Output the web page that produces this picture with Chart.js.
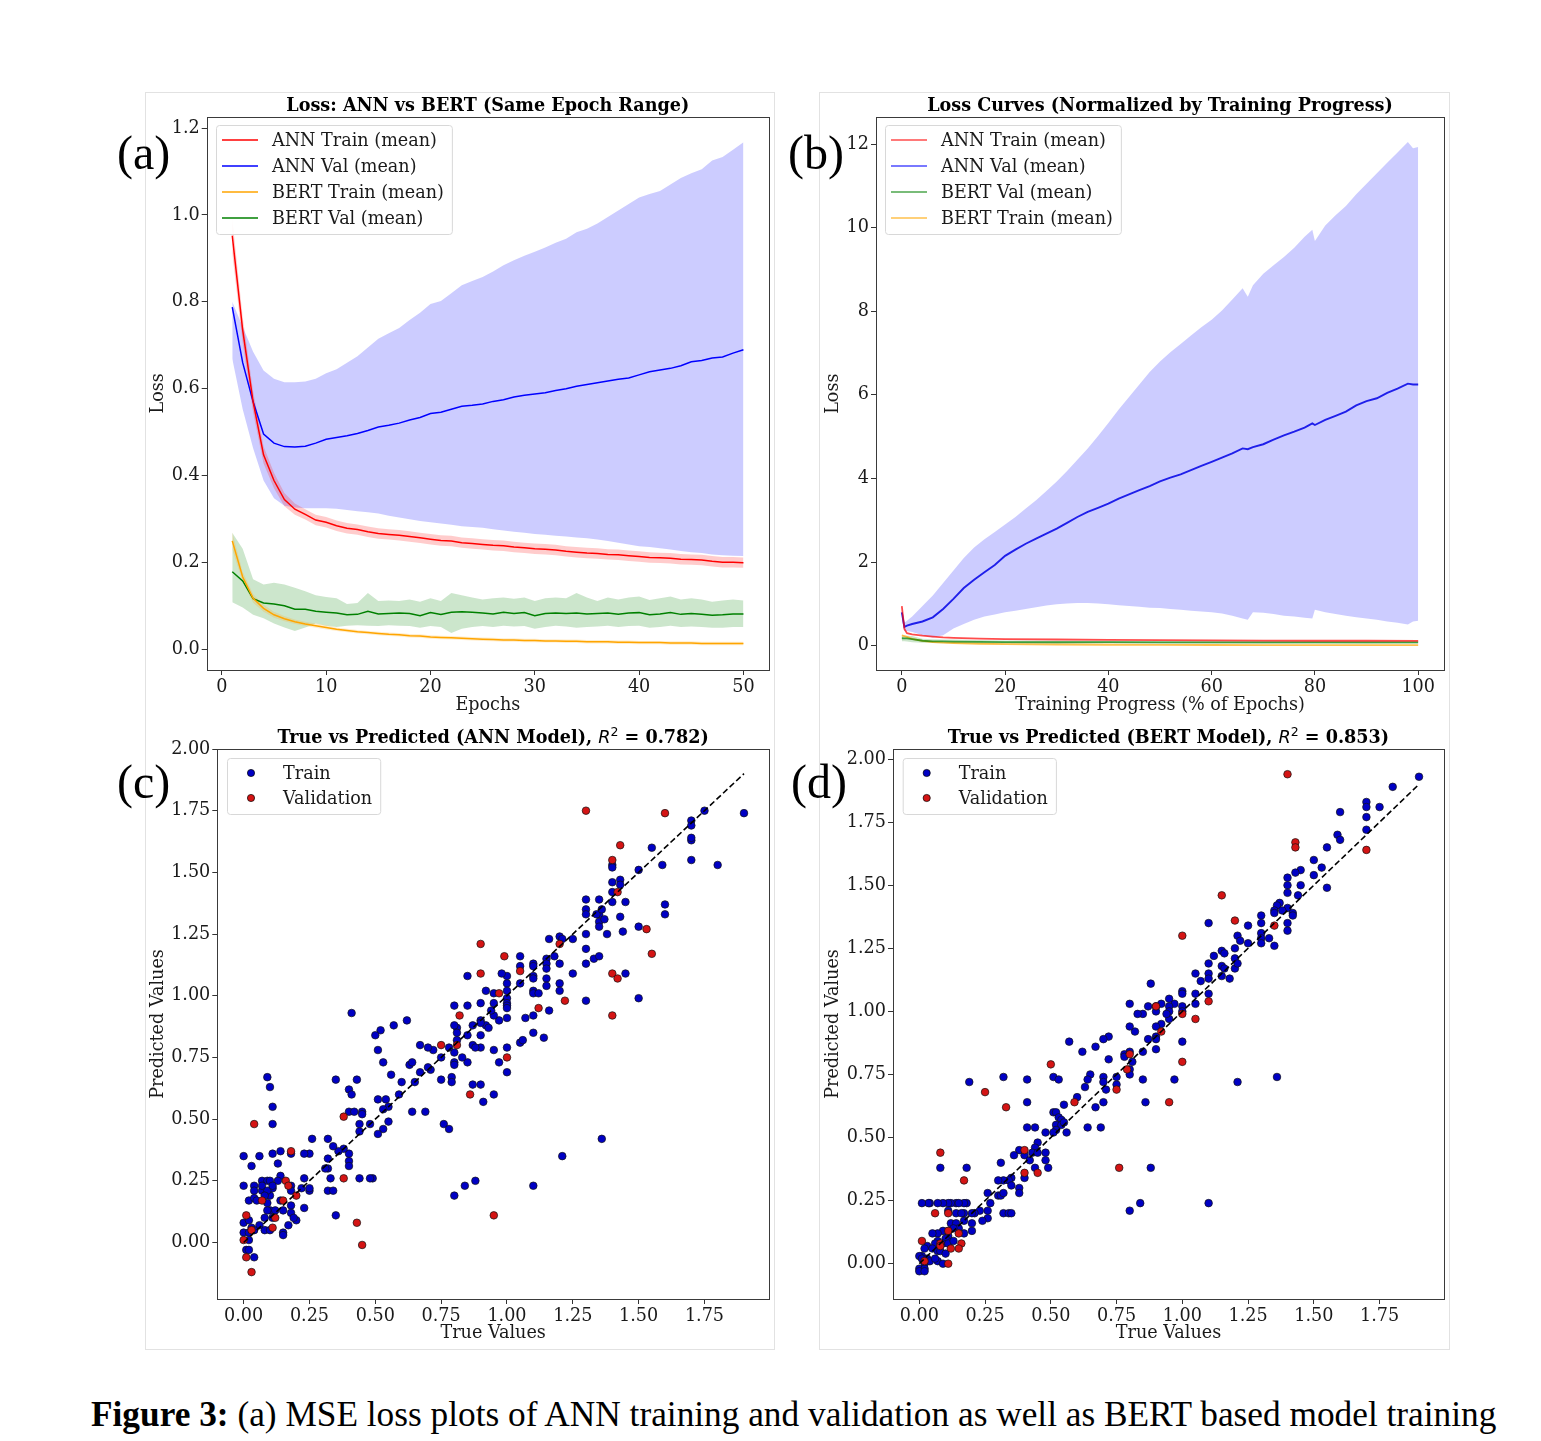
<!DOCTYPE html>
<html>
<head>
<meta charset="utf-8">
<script src="https://cdn.jsdelivr.net/npm/chart.js@4.4.1/dist/chart.umd.min.js"></script>
<style>
  body { margin: 0; background: #fff; width: 1541px; height: 1441px; position: relative; overflow: hidden; }
  .frame { position: absolute; border: 1px solid #e2e2e2; box-sizing: border-box; }
  canvas { position: absolute; }
  .tag { position: absolute; font-family: 'Liberation Serif', serif; font-size: 48px; line-height: 1; color: #000; }
  #caption { position: absolute; left: 91px; top: 1395px; font-family: 'Liberation Serif', serif; font-size: 35.3px; white-space: nowrap; color: #000; }
</style>
</head>
<body>
<div class="frame" style="left:145px;top:92px;width:630px;height:1258px"></div>
<div class="frame" style="left:819px;top:92px;width:631px;height:1258px"></div>

<canvas id="cA" width="629" height="628" style="left:145px;top:92px"></canvas>
<canvas id="cB" width="630" height="628" style="left:819px;top:92px"></canvas>
<canvas id="cC" width="629" height="629" style="left:145px;top:720px"></canvas>
<canvas id="cD" width="630" height="629" style="left:819px;top:720px"></canvas>

<div class="tag" style="left:117px;top:129px">(a)</div>
<div class="tag" style="left:788px;top:129px">(b)</div>
<div class="tag" style="left:117px;top:758px">(c)</div>
<div class="tag" style="left:791px;top:758px">(d)</div>

<div id="caption"><b>Figure 3:</b> (a) MSE loss plots of ANN training and validation as well as BERT based model training</div>

<script>
// ---------- (a) loss per epoch ----------
const epochs = Array.from({ length: 50 }, (_, i) => i + 1);

const annTrain = [0.952, 0.735, 0.57, 0.448, 0.389, 0.345, 0.323, 0.311, 0.298, 0.293,
  0.285, 0.279, 0.276, 0.271, 0.267, 0.265, 0.263, 0.26, 0.257, 0.254,
  0.251, 0.25, 0.246, 0.244, 0.242, 0.24, 0.239, 0.236, 0.234, 0.232,
  0.231, 0.229, 0.226, 0.224, 0.222, 0.221, 0.219, 0.218, 0.216, 0.214,
  0.212, 0.211, 0.21, 0.208, 0.207, 0.206, 0.203, 0.201, 0.201, 0.2];
const annTrainStd = [0.04, 0.03, 0.025, 0.02, 0.018, 0.015, 0.013, 0.012, 0.012, 0.012,
  0.012, 0.012, 0.012, 0.012, 0.012, 0.012, 0.012, 0.012, 0.012, 0.012,
  0.012, 0.012, 0.012, 0.012, 0.012, 0.012, 0.012, 0.012, 0.012, 0.012,
  0.012, 0.012, 0.012, 0.012, 0.012, 0.012, 0.012, 0.012, 0.012, 0.012,
  0.012, 0.012, 0.012, 0.012, 0.012, 0.012, 0.012, 0.012, 0.012, 0.012];

const annVal = [0.788, 0.66, 0.57, 0.496, 0.475, 0.467, 0.466, 0.468, 0.475, 0.484,
  0.488, 0.492, 0.497, 0.504, 0.512, 0.516, 0.521, 0.528, 0.534, 0.543,
  0.546, 0.553, 0.56, 0.562, 0.565, 0.571, 0.575, 0.581, 0.585, 0.588,
  0.591, 0.596, 0.6, 0.606, 0.61, 0.614, 0.618, 0.622, 0.625, 0.632,
  0.639, 0.643, 0.647, 0.653, 0.662, 0.665, 0.671, 0.673, 0.682, 0.69];
const annValHi = [0.8, 0.743, 0.685, 0.642, 0.623, 0.615, 0.615, 0.617, 0.623, 0.636,
  0.645, 0.66, 0.675, 0.695, 0.715, 0.728, 0.74, 0.758, 0.775, 0.795,
  0.802, 0.82, 0.838, 0.848, 0.857, 0.87, 0.884, 0.896, 0.906, 0.915,
  0.925, 0.936, 0.945, 0.96, 0.968, 0.98, 0.995, 1.01, 1.025, 1.04,
  1.048, 1.055, 1.07, 1.085, 1.096, 1.105, 1.125, 1.133, 1.15, 1.167];
const annValLo = [0.669, 0.553, 0.463, 0.389, 0.348, 0.331, 0.327, 0.325, 0.325, 0.325,
  0.324, 0.321, 0.318, 0.316, 0.313, 0.308, 0.304, 0.3, 0.296, 0.293,
  0.29, 0.287, 0.284, 0.282, 0.28, 0.277, 0.274, 0.271, 0.269, 0.266,
  0.264, 0.262, 0.26, 0.258, 0.256, 0.253, 0.25, 0.246, 0.242, 0.238,
  0.236, 0.233, 0.23, 0.227, 0.224, 0.222, 0.219, 0.217, 0.216, 0.215];

const bertTrain = [0.25, 0.167, 0.118, 0.095, 0.08, 0.071, 0.064, 0.059, 0.055, 0.051,
  0.047, 0.044, 0.041, 0.039, 0.037, 0.035, 0.034, 0.032, 0.031, 0.029,
  0.028, 0.027, 0.026, 0.025, 0.024, 0.023, 0.022, 0.022, 0.021, 0.021,
  0.02, 0.02, 0.019, 0.019, 0.018, 0.018, 0.018, 0.017, 0.017, 0.016,
  0.016, 0.016, 0.015, 0.015, 0.015, 0.014, 0.014, 0.014, 0.014, 0.014];
const bertTrainStd = [0.02, 0.012, 0.01, 0.008, 0.007, 0.006, 0.005, 0.005, 0.005, 0.005,
  0.004, 0.004, 0.004, 0.004, 0.004, 0.004, 0.004, 0.004, 0.004, 0.004,
  0.004, 0.004, 0.004, 0.004, 0.004, 0.004, 0.004, 0.004, 0.004, 0.004,
  0.004, 0.004, 0.004, 0.004, 0.004, 0.004, 0.004, 0.004, 0.004, 0.004,
  0.004, 0.004, 0.004, 0.004, 0.004, 0.004, 0.004, 0.004, 0.004, 0.004];

const bertVal = [0.179, 0.158, 0.117, 0.107, 0.105, 0.101, 0.093, 0.093, 0.088, 0.086,
  0.084, 0.08, 0.081, 0.088, 0.082, 0.083, 0.084, 0.083, 0.078, 0.085,
  0.081, 0.086, 0.087, 0.086, 0.084, 0.082, 0.086, 0.083, 0.085, 0.078,
  0.083, 0.084, 0.083, 0.084, 0.082, 0.083, 0.084, 0.081, 0.084, 0.085,
  0.08, 0.082, 0.085, 0.081, 0.083, 0.081, 0.079, 0.08, 0.082, 0.082];
const bertValHi = [0.269, 0.232, 0.162, 0.15, 0.154, 0.15, 0.142, 0.134, 0.125, 0.121,
  0.118, 0.105, 0.107, 0.13, 0.112, 0.113, 0.112, 0.115, 0.11, 0.118,
  0.112, 0.13, 0.125, 0.12, 0.115, 0.118, 0.12, 0.117, 0.12, 0.112,
  0.118, 0.12, 0.118, 0.13, 0.12, 0.112, 0.12, 0.115, 0.12, 0.122,
  0.114, 0.118, 0.122, 0.115, 0.118, 0.115, 0.11, 0.113, 0.115, 0.113];
const bertValLo = [0.109, 0.097, 0.08, 0.072, 0.06, 0.051, 0.043, 0.051, 0.06, 0.055,
  0.052, 0.055, 0.056, 0.055, 0.054, 0.056, 0.055, 0.054, 0.05, 0.054,
  0.052, 0.038, 0.048, 0.052, 0.054, 0.052, 0.055, 0.053, 0.054, 0.048,
  0.052, 0.055, 0.053, 0.05, 0.052, 0.053, 0.055, 0.052, 0.054, 0.055,
  0.05, 0.052, 0.055, 0.052, 0.053, 0.052, 0.05, 0.05, 0.052, 0.052];

// ---------- (b) loss vs training progress ----------
const progB = [0, 0.5, 1, 2, 4, 6, 8, 10, 12, 14, 16, 18, 20, 22, 24, 26, 28, 30, 32, 34, 36, 38, 40,
  42, 44, 46, 48, 50, 52, 54, 56, 58, 60, 62, 64, 66, 67, 68, 70, 72, 74, 76, 78, 79.5,
  80, 82, 84, 86, 88, 90, 92, 94, 96, 98, 99, 100];
const bAnnVal = [0.8, 0.45, 0.48, 0.52, 0.58, 0.68, 0.88, 1.12, 1.38, 1.58, 1.76, 1.93, 2.15, 2.3,
  2.44, 2.56, 2.68, 2.8, 2.94, 3.08, 3.2, 3.3, 3.4, 3.52, 3.62, 3.72, 3.82, 3.93, 4.02, 4.1,
  4.2, 4.3, 4.4, 4.5, 4.6, 4.72, 4.7, 4.75, 4.82, 4.93, 5.03, 5.12, 5.22, 5.32,
  5.28, 5.4, 5.5, 5.6, 5.75, 5.85, 5.92, 6.05, 6.15, 6.27, 6.25, 6.25];
const bAnnValHi = [0.95, 0.55, 0.6, 0.7, 0.95, 1.2, 1.5, 1.8, 2.1, 2.35, 2.55, 2.72, 2.9, 3.08,
  3.28, 3.48, 3.7, 3.93, 4.18, 4.45, 4.72, 5.02, 5.33, 5.65, 5.95, 6.25, 6.55, 6.8, 7.02, 7.22,
  7.42, 7.62, 7.8, 8.02, 8.28, 8.55, 8.35, 8.62, 8.9, 9.1, 9.3, 9.52, 9.78, 9.95,
  9.68, 10.05, 10.3, 10.52, 10.8, 11.05, 11.3, 11.55, 11.8, 12.05, 11.9, 11.93];
const bAnnValLo = [0.6, 0.35, 0.35, 0.33, 0.25, 0.2, 0.25, 0.41, 0.52, 0.62, 0.7, 0.75, 0.8, 0.84,
  0.88, 0.92, 0.96, 0.99, 1.01, 1.02, 1.02, 1.01, 0.99, 0.97, 0.95, 0.93, 0.91, 0.9, 0.88, 0.86,
  0.84, 0.82, 0.8, 0.77, 0.72, 0.65, 0.62, 0.8, 0.79, 0.76, 0.72, 0.7, 0.67, 0.65,
  0.86, 0.8, 0.76, 0.72, 0.68, 0.65, 0.62, 0.58, 0.55, 0.51, 0.58, 0.6];

const progS = [0, 0.5, 1, 2, 4, 6, 8, 10, 15, 20, 30, 40, 50, 60, 70, 80, 90, 100];
const bAnnTrain = [0.95, 0.4, 0.3, 0.27, 0.24, 0.22, 0.2, 0.19, 0.17, 0.16, 0.15, 0.14, 0.135, 0.13, 0.125, 0.12, 0.12, 0.115];
const bBertVal = [0.18, 0.178, 0.175, 0.16, 0.12, 0.106, 0.104, 0.1, 0.092, 0.088, 0.084, 0.085, 0.082, 0.083, 0.081, 0.082, 0.081, 0.082];
const bBertValHi = [0.245, 0.24, 0.24, 0.232, 0.17, 0.155, 0.15, 0.15, 0.135, 0.128, 0.118, 0.122, 0.115, 0.118, 0.115, 0.113, 0.112, 0.113];
const bBertValLo = [0.11, 0.105, 0.1, 0.085, 0.07, 0.065, 0.06, 0.055, 0.05, 0.05, 0.052, 0.055, 0.053, 0.052, 0.05, 0.052, 0.05, 0.052];
const bBertTrain = [0.25, 0.23, 0.21, 0.165, 0.115, 0.09, 0.075, 0.066, 0.048, 0.04, 0.03, 0.024, 0.021, 0.018, 0.016, 0.015, 0.014, 0.013];

// ---------- (c) ANN true vs predicted: [true, predicted] ----------
const cTrain = [[1.90,1.74],[1.75,1.75],[1.70,1.71],[1.70,1.69],[1.70,1.63],[1.70,1.64],[1.70,1.55],[1.80,1.53],[1.59,1.53],[1.55,1.60],
  [1.60,1.37],[1.60,1.33],[1.50,1.51],[1.50,1.28],[1.50,0.99],[1.45,1.09],[1.40,1.53],[1.40,1.52],[1.40,1.46],[1.43,1.47],
  [1.43,1.45],[1.40,1.42],[1.40,1.38],[1.45,1.38],[1.43,1.32],[1.44,1.26],[1.38,1.25],[1.35,1.33],[1.34,1.33],[1.30,1.39],
  [1.30,1.35],[1.30,1.33],[1.30,1.25],[1.30,1.19],[1.30,1.13],[1.35,1.39],[1.36,1.35],[1.35,1.30],[1.35,1.28],[1.37,1.31],
  [1.33,1.15],[1.35,1.16],[1.30,0.98],[1.25,1.23],[1.25,1.09],[1.20,1.24],[1.21,1.23],[1.20,1.13],[1.20,1.05],[1.20,1.02],
  [1.16,1.23],[1.18,1.16],[1.15,1.15],[1.15,1.13],[1.15,1.11],[1.15,1.07],[1.15,1.04],[1.16,0.94],[1.10,1.13],[1.10,1.12],
  [1.10,1.08],[1.10,1.07],[1.10,1.02],[1.10,1.01],[1.10,0.92],[1.10,0.85],[1.12,1.01],[1.07,0.91],[1.05,1.16],[1.05,1.12],
  [1.05,1.05],[1.05,0.81],[1.06,0.82],[1.14,0.83],[1.00,1.08],[1.00,1.05],[1.00,1.02],[1.00,0.99],[1.00,0.97],[1.00,0.96],
  [1.00,0.95],[1.00,0.91],[1.00,0.79],[1.00,0.69],[0.98,1.09],[0.97,0.90],[0.95,1.01],[0.95,0.97],[0.95,0.92],[0.95,0.78],
  [0.95,0.60],[0.97,0.73],[0.94,0.94],[0.92,1.02],[0.92,0.88],[0.93,0.87],[0.91,0.57],[0.90,0.97],[0.90,0.90],[0.90,0.89],
  [0.90,0.84],[0.90,0.79],[0.90,0.64],[0.87,0.88],[0.87,0.80],[0.88,0.79],[0.85,1.08],[0.85,0.96],[0.85,0.84],[0.85,0.73],
  [0.87,0.64],[0.83,0.75],[0.81,0.87],[0.81,0.85],[0.81,0.82],[0.80,0.96],[0.80,0.88],[0.80,0.77],[0.80,0.73],[0.80,0.72],
  [0.78,0.79],[0.79,0.67],[0.79,0.65],[0.75,0.75],[0.75,0.66],[0.76,0.48],[0.78,0.46],[0.72,0.78],[0.71,0.70],[0.70,0.79],
  [0.70,0.71],[0.69,0.53],[0.67,0.80],[0.67,0.69],[0.65,0.65],[0.63,0.72],[0.64,0.73],[0.64,0.53],[0.62,0.90],[0.60,0.65],
  [0.59,0.60],[0.57,0.88],[0.56,0.68],[0.52,0.86],[0.50,0.84],[0.51,0.78],[0.53,0.73],[0.51,0.58],[0.54,0.58],[0.55,0.55],
  [0.53,0.54],[0.55,0.49],[0.53,0.46],[0.51,0.44],[0.48,0.48],[0.45,0.53],[0.43,0.66],[0.44,0.48],[0.44,0.45],[0.45,0.52],
  [0.41,0.93],[0.40,0.62],[0.41,0.60],[0.40,0.53],[0.42,0.53],[0.40,0.36],[0.40,0.33],[0.40,0.31],[0.35,0.66],[0.35,0.11],
  [0.38,0.38],[0.36,0.37],[0.34,0.39],[0.33,0.26],[0.32,0.42],[0.32,0.34],[0.32,0.30],[0.32,0.21],[0.34,0.21],[0.31,0.30],
  [0.44,0.26],[0.26,0.42],[0.25,0.36],[0.23,0.36],[0.25,0.21],[0.25,0.22],[0.23,0.26],[0.23,0.14],[0.20,0.09],[0.22,0.22],
  [0.18,0.23],[0.18,0.36],[0.14,0.37],[0.11,0.36],[0.14,0.27],[0.13,0.32],[0.18,0.21],[0.18,0.15],[0.18,0.12],[0.17,0.07],
  [0.14,0.17],[0.15,0.13],[0.15,0.04],[0.15,0.03],[0.13,0.25],[0.11,0.22],[0.10,0.19],[0.09,0.67],[0.10,0.63],[0.11,0.55],
  [0.11,0.48],[0.06,0.35],[0.00,0.35],[0.03,0.31],[0.00,0.23],[0.02,0.17],[0.04,0.23],[0.04,0.21],[0.07,0.25],[0.07,0.21],
  [0.09,0.25],[0.07,0.23],[0.09,0.21],[0.08,0.19],[0.10,0.25],[0.11,0.23],[0.09,0.16],[0.10,0.13],[0.12,0.13],[0.09,0.13],
  [0.08,0.10],[0.11,0.10],[0.08,0.05],[0.10,0.05],[0.06,0.07],[0.04,0.18],[0.05,0.17],[0.00,0.08],[0.02,0.09],[0.00,0.04],
  [0.02,0.04],[0.03,0.06],[0.04,0.05],[0.02,0.01],[0.01,-0.03],[0.02,-0.03],[0.04,-0.06],[0.19,0.10],[0.80,0.19],[0.84,0.23],
  [0.88,0.25],[1.10,0.23],[1.21,0.35],[1.36,0.42],[0.49,0.26],[0.48,0.26]];
const cVal = [[1.30,1.75],[1.60,1.74],[1.43,1.61],[1.40,1.55],[1.42,1.42],[1.53,1.27],[1.55,1.17],[1.40,1.09],[1.42,1.07],[1.22,0.98],
  [1.12,0.95],[1.40,0.92],[1.20,1.21],[0.90,1.21],[0.99,1.16],[1.05,1.10],[0.90,1.09],[0.97,1.01],[0.82,0.92],[0.75,0.80],
  [0.81,0.80],[1.00,0.75],[0.86,0.60],[0.38,0.51],[0.04,0.48],[0.18,0.37],[0.38,0.26],[0.16,0.25],[0.17,0.23],[0.20,0.19],
  [0.07,0.17],[0.15,0.17],[0.12,0.10],[0.11,0.06],[0.01,0.11],[0.03,0.05],[0.00,0.01],[0.43,0.08],[0.45,-0.01],[0.95,0.11],
  [0.01,-0.06],[0.03,-0.12]];

// ---------- (d) BERT true vs predicted: [true, predicted] ----------
const dTrain = [[1.90,1.93],[1.80,1.89],[1.75,1.81],[1.70,1.83],[1.70,1.81],[1.70,1.77],[1.70,1.72],[1.60,1.79],[1.59,1.70],[1.60,1.68],
  [1.55,1.65],[1.50,1.60],[1.50,1.54],[1.53,1.57],[1.55,1.49],[1.45,1.56],[1.43,1.55],[1.45,1.50],[1.40,1.53],[1.40,1.50],
  [1.40,1.47],[1.44,1.46],[1.40,1.41],[1.40,1.35],[1.40,1.32],[1.42,1.39],[1.42,1.38],[1.37,1.43],[1.36,1.42],[1.35,1.40],
  [1.35,1.39],[1.38,1.40],[1.35,1.26],[1.30,1.38],[1.30,1.35],[1.30,1.31],[1.30,1.29],[1.30,1.27],[1.33,1.29],[1.25,1.34],
  [1.25,1.27],[1.21,1.30],[1.20,1.25],[1.20,1.21],[1.20,1.17],[1.21,1.19],[1.22,1.28],[1.18,1.13],[1.15,1.24],[1.15,1.18],
  [1.15,1.14],[1.16,1.23],[1.16,1.17],[1.10,1.35],[1.12,1.22],[1.10,1.19],[1.10,1.15],[1.10,1.13],[1.10,1.07],[1.05,1.15],
  [1.07,1.12],[1.05,1.07],[1.05,1.03],[1.00,1.08],[1.00,1.07],[1.00,1.02],[1.00,1.00],[1.00,0.88],[0.97,1.03],[0.95,1.05],
  [0.95,1.02],[0.95,1.00],[0.95,0.97],[0.92,1.03],[0.94,0.99],[0.92,0.95],[0.90,1.02],[0.90,1.00],[0.90,0.94],[0.90,0.90],
  [0.90,0.89],[0.90,0.85],[0.88,1.11],[0.87,1.02],[0.85,0.99],[0.85,0.84],[0.87,0.89],[0.83,0.99],[0.82,0.92],[0.80,1.03],
  [0.80,0.94],[0.80,0.84],[0.81,0.80],[0.78,0.83],[0.78,0.82],[0.80,0.77],[0.80,0.75],[0.85,0.73],[0.86,0.64],[0.97,0.73],
  [0.75,0.74],[0.75,0.71],[0.72,0.90],[0.72,0.81],[0.70,0.89],[0.70,0.74],[0.70,0.72],[0.71,0.69],[0.70,0.64],[0.67,0.86],
  [0.67,0.62],[0.65,0.75],[0.64,0.73],[0.63,0.70],[0.62,0.84],[0.64,0.54],[0.69,0.54],[0.60,0.66],[0.57,0.88],[0.55,0.63],
  [0.51,0.74],[0.53,0.73],[0.51,0.60],[0.52,0.60],[0.53,0.58],[0.54,0.57],[0.52,0.55],[0.54,0.55],[0.55,0.56],[0.52,0.53],
  [0.56,0.52],[0.51,0.52],[0.48,0.52],[0.45,0.48],[0.44,0.46],[0.43,0.44],[0.45,0.44],[0.48,0.44],[0.48,0.41],[0.49,0.38],
  [0.44,0.38],[0.41,0.73],[0.41,0.64],[0.41,0.54],[0.44,0.54],[0.40,0.43],[0.42,0.41],[0.40,0.34],[0.38,0.45],[0.38,0.30],
  [0.38,0.28],[0.36,0.43],[0.35,0.34],[0.34,0.33],[0.35,0.31],[0.32,0.33],[0.31,0.40],[0.30,0.33],[0.30,0.27],[0.31,0.27],
  [0.32,0.28],[0.32,0.74],[0.32,0.20],[0.34,0.20],[0.35,0.20],[0.26,0.28],[0.27,0.24],[0.26,0.21],[0.26,0.18],[0.24,0.17],
  [0.23,0.21],[0.21,0.20],[0.19,0.72],[0.18,0.38],[0.08,0.38],[0.18,0.24],[0.17,0.24],[0.17,0.20],[0.20,0.20],[0.20,0.16],
  [0.20,0.13],[0.17,0.17],[0.17,0.12],[0.14,0.24],[0.15,0.24],[0.14,0.20],[0.16,0.20],[0.12,0.24],[0.11,0.24],[0.09,0.24],
  [0.07,0.24],[0.04,0.24],[0.035,0.24],[0.01,0.24],[0.11,0.21],[0.12,0.16],[0.14,0.16],[0.15,0.14],[0.13,0.14],[0.11,0.13],
  [0.11,0.11],[0.09,0.13],[0.07,0.12],[0.10,0.10],[0.07,0.09],[0.06,0.08],[0.09,0.08],[0.11,0.08],[0.13,0.09],[0.05,0.12],
  [0.03,0.07],[0.02,0.06],[0.05,0.06],[0.07,0.05],[0.08,0.05],[0.10,0.04],[0.07,0.01],[0.09,0.00],[0.01,0.03],[0.00,0.03],
  [0.01,0.02],[0.03,0.02],[0.02,0.00],[0.00,-0.02],[0.02,-0.02],[0.00,-0.03],[0.02,-0.03],[0.04,0.01],[0.06,0.02],[0.80,0.21],
  [0.84,0.24],[0.88,0.38],[1.10,0.24],[1.21,0.72],[1.36,0.74]];
const dVal = [[1.40,1.94],[1.43,1.67],[1.43,1.65],[1.70,1.64],[1.15,1.46],[1.20,1.36],[1.35,1.34],[1.00,1.30],[1.10,1.04],[0.90,1.02],
  [1.00,0.99],[1.05,0.97],[0.92,0.92],[1.00,0.80],[0.80,0.83],[0.79,0.77],[0.75,0.69],[0.50,0.79],[0.59,0.64],[0.95,0.64],
  [0.76,0.38],[0.25,0.68],[0.33,0.62],[0.40,0.45],[0.40,0.36],[0.45,0.36],[0.08,0.44],[0.17,0.33],[0.06,0.20],[0.11,0.20],
  [0.11,0.13],[0.15,0.12],[0.16,0.08],[0.15,0.06],[0.12,0.06],[0.08,0.08],[0.01,0.09],[0.02,0.01],[0.08,0.07],[0.11,0.00]];

const diagLine = [0, 1.9];

// tick labels
const ticksA_x = [0, 10, 20, 30, 40, 50];
const ticksA_y = [0, 0.2, 0.4, 0.6, 0.8, 1.0, 1.2];
const ticksB_x = [0, 20, 40, 60, 80, 100];
const ticksB_y = [0, 2, 4, 6, 8, 10, 12];
const ticksS_x = [0, 0.25, 0.5, 0.75, 1.0, 1.25, 1.5, 1.75];
const ticksS_y = [0, 0.25, 0.5, 0.75, 1.0, 1.25, 1.5, 1.75, 2.0];

// ---------- helpers ----------
const SERIF = "'DejaVu Serif', serif";
const FS = 17.6;
Chart.defaults.font.family = SERIF;
Chart.defaults.font.size = FS;
Chart.defaults.color = '#1a1a1a';
Chart.defaults.animation = false;

const pts = (xs, ys) => xs.map((x, i) => ({ x, y: ys[i] }));
const pairs = arr => arr.map(p => ({ x: p[0], y: p[1] }));

function line(xs, ys, color, order, width) {
  return { data: pts(xs, ys), borderColor: color, borderWidth: width || 1.5, pointRadius: 0, fill: false, tension: 0, order };
}
function band(xs, lo, hi, color) {
  return [
    { data: pts(xs, hi), borderWidth: 0, pointRadius: 0, fill: '+1', backgroundColor: color, tension: 0, order: 10 },
    { data: pts(xs, lo), borderWidth: 0, pointRadius: 0, fill: false, tension: 0, order: 10 }
  ];
}
function axis(min, max, ticks, dec, size, title, titlePad) {
  return {
    type: 'linear', min, max,
    afterBuildTicks: s => { s.ticks = ticks.map(v => ({ value: v })); },
    afterFit: s => { if (s.isHorizontal()) s.height = size; else s.width = size; },
    ticks: { callback: v => Number(v).toFixed(dec), padding: 2, color: '#1a1a1a' },
    grid: { drawOnChartArea: false, tickLength: 5, color: '#333', lineWidth: 1 },
    border: { display: false },
    title: { display: true, text: title, padding: titlePad, color: '#1a1a1a' }
  };
}

// frame, title and legend drawn the matplotlib way
const mplPlugin = {
  id: 'mpl',
  afterDraw(chart, args, o) {
    const { ctx, chartArea: a } = chart;
    ctx.save();
    ctx.strokeStyle = '#3a3a3a';
    ctx.lineWidth = 1;
    ctx.strokeRect(Math.round(a.left) + 0.5, Math.round(a.top) + 0.5, Math.round(a.right - a.left), Math.round(a.bottom - a.top));

    // title (rich text parts)
    let w = 0;
    o.title.forEach(p => { ctx.font = p.font; p.w = ctx.measureText(p.text).width; w += p.w; });
    let x = (a.left + a.right) / 2 - w / 2;
    ctx.fillStyle = '#000';
    ctx.textBaseline = 'alphabetic';
    o.title.forEach(p => { ctx.font = p.font; ctx.fillText(p.text, x, a.top - 6 + (p.dy || 0)); x += p.w; });

    // legend box
    const L = o.legend;
    ctx.font = FS + 'px ' + SERIF;
    const tw = Math.max(...L.items.map(it => ctx.measureText(it.label).width));
    const bx = a.left + L.dx, by = a.top + L.dy;
    const bw = 56 + tw + 8, bh = 15 + (L.items.length - 1) * L.gap + 16;
    ctx.beginPath();
    ctx.roundRect(bx + 0.5, by + 0.5, bw, bh, 3);
    ctx.fillStyle = 'rgba(255,255,255,0.85)';
    ctx.fill();
    ctx.strokeStyle = '#d8d8d8';
    ctx.stroke();
    L.items.forEach((it, i) => {
      const cy = by + 15 + i * L.gap;
      if (it.dot) {
        ctx.beginPath();
        ctx.arc(bx + 24, cy, 3.6, 0, Math.PI * 2);
        ctx.fillStyle = it.color; ctx.fill();
        ctx.strokeStyle = '#000'; ctx.lineWidth = 0.7; ctx.stroke();
      } else {
        ctx.beginPath();
        ctx.moveTo(bx + 6, cy); ctx.lineTo(bx + 42, cy);
        ctx.strokeStyle = it.color; ctx.lineWidth = 1.5; ctx.stroke();
      }
      ctx.fillStyle = '#1a1a1a';
      ctx.textBaseline = 'middle';
      ctx.fillText(it.label, bx + 56, cy + 1);
    });
    ctx.restore();
  }
};

const boldT = 'bold ' + FS + 'px ' + SERIF;
function baseOptions(pad, scales, title, legend) {
  return {
    responsive: false,
    animation: false,
    layout: { padding: pad },
    plugins: { legend: { display: false }, tooltip: { enabled: false }, mpl: { title, legend } },
    scales
  };
}

// ---------- (a) ----------
new Chart(document.getElementById('cA'), {
  type: 'line',
  data: { datasets: [
    line(epochs, annTrain, 'red', 1),
    line(epochs, annVal, 'blue', 2),
    line(epochs, bertTrain, 'orange', 3),
    line(epochs, bertVal, 'green', 4),
    ...band(epochs, annTrain.map((v, i) => v - annTrainStd[i]), annTrain.map((v, i) => v + annTrainStd[i]), 'rgba(255,0,0,0.2)'),
    ...band(epochs, annValLo, annValHi, 'rgba(0,0,255,0.2)'),
    ...band(epochs, bertTrain.map((v, i) => v - bertTrainStd[i]), bertTrain.map((v, i) => v + bertTrainStd[i]), 'rgba(255,165,0,0.2)'),
    ...band(epochs, bertValLo, bertValHi, 'rgba(0,128,0,0.2)')
  ]},
  options: baseOptions({ top: 24.7, right: 5, left: 0, bottom: 0 }, {
    x: axis(-1.45, 52.45, ticksA_x, 0, 50, 'Epochs', { top: 0, bottom: 4 }),
    y: axis(-0.047, 1.226, ticksA_y, 1, 61.7, 'Loss', { top: 2.5, bottom: 0 })
  }, [{ text: 'Loss: ANN vs BERT (Same Epoch Range)', font: boldT }],
  { dx: 9.3, dy: 8.3, gap: 26, items: [
    { label: 'ANN Train (mean)', color: 'red' },
    { label: 'ANN Val (mean)', color: 'blue' },
    { label: 'BERT Train (mean)', color: 'orange' },
    { label: 'BERT Val (mean)', color: 'green' }
  ]}),
  plugins: [mplPlugin]
});

// ---------- (b) ----------
const cRed = 'rgba(255,0,0,0.7)', cBlue = 'rgba(0,0,255,0.7)', cGreen = 'rgba(0,128,0,0.7)', cOrange = 'rgba(255,165,0,0.7)';
new Chart(document.getElementById('cB'), {
  type: 'line',
  data: { datasets: [
    line(progS, bAnnTrain, cRed, 1, 1.8),
    line(progB, bAnnVal, 'rgba(0,0,230,0.85)', 2, 1.9),
    line(progS, bBertVal, cGreen, 3, 1.8),
    line(progS, bBertTrain, cOrange, 4, 1.8),
    ...band(progB, bAnnValLo, bAnnValHi, 'rgba(0,0,255,0.2)'),
    ...band(progS, bBertValLo, bBertValHi, 'rgba(0,128,0,0.2)')
  ]},
  options: baseOptions({ top: 25.3, right: 5, left: 0, bottom: 0 }, {
    x: axis(-5, 105, ticksB_x, 0, 50, 'Training Progress (% of Epochs)', { top: 0, bottom: 4 }),
    y: axis(-0.58, 12.64, ticksB_y, 0, 57, 'Loss', { top: 3.5, bottom: 0 })
  }, [{ text: 'Loss Curves (Normalized by Training Progress)', font: boldT }],
  { dx: 9, dy: 7.7, gap: 26, items: [
    { label: 'ANN Train (mean)', color: cRed },
    { label: 'ANN Val (mean)', color: cBlue },
    { label: 'BERT Val (mean)', color: cGreen },
    { label: 'BERT Train (mean)', color: cOrange }
  ]}),
  plugins: [mplPlugin]
});

// ---------- (c) and (d) scatter ----------
const trainColor = '#0000c4', valColor = '#d41414';
function scatterChart(id, train, val, yMin, yMax, yWidth, yTitlePad, r2label) {
  new Chart(document.getElementById(id), {
    type: 'scatter',
    data: { datasets: [
      { type: 'line', data: pts(diagLine, diagLine), borderColor: '#000', borderWidth: 1.6, borderDash: [6, 3],
        pointRadius: 0, fill: false, order: 0 },
      { data: pairs(val), backgroundColor: valColor, borderColor: '#111', borderWidth: 0.7, pointRadius: 3.8, order: 1 },
      { data: pairs(train), backgroundColor: trainColor, borderColor: '#111', borderWidth: 0.7, pointRadius: 3.8, order: 2 }
    ]},
    options: baseOptions({ top: 29, right: 5, left: 0, bottom: 0 }, {
      x: axis(-0.1, 1.995, ticksS_x, 2, 50, 'True Values', { top: 0, bottom: 5 }),
      y: axis(yMin, yMax, ticksS_y, 2, yWidth, 'Predicted Values', yTitlePad)
    }, [
      { text: r2label[0], font: boldT },
      { text: 'R', font: "italic 17.6px 'DejaVu Sans', sans-serif" },
      { text: '2', font: "12.5px 'DejaVu Sans', sans-serif", dy: -7 },
      { text: r2label[1], font: boldT }
    ],
    { dx: 9.7, dy: 9, gap: 25, items: [
      { label: 'Train', color: trainColor, dot: true },
      { label: 'Validation', color: valColor, dot: true }
    ]}),
    plugins: [mplPlugin]
  });
}
scatterChart('cC', cTrain, cVal, -0.229, 2.0, 72.3, { top: 2.5, bottom: 0 }, ['True vs Predicted (ANN Model), ', ' = 0.782)']);
scatterChart('cD', dTrain, dVal, -0.14, 2.04, 74, { top: 3.5, bottom: 0 }, ['True vs Predicted (BERT Model), ', ' = 0.853)']);
</script>
</body>
</html>
